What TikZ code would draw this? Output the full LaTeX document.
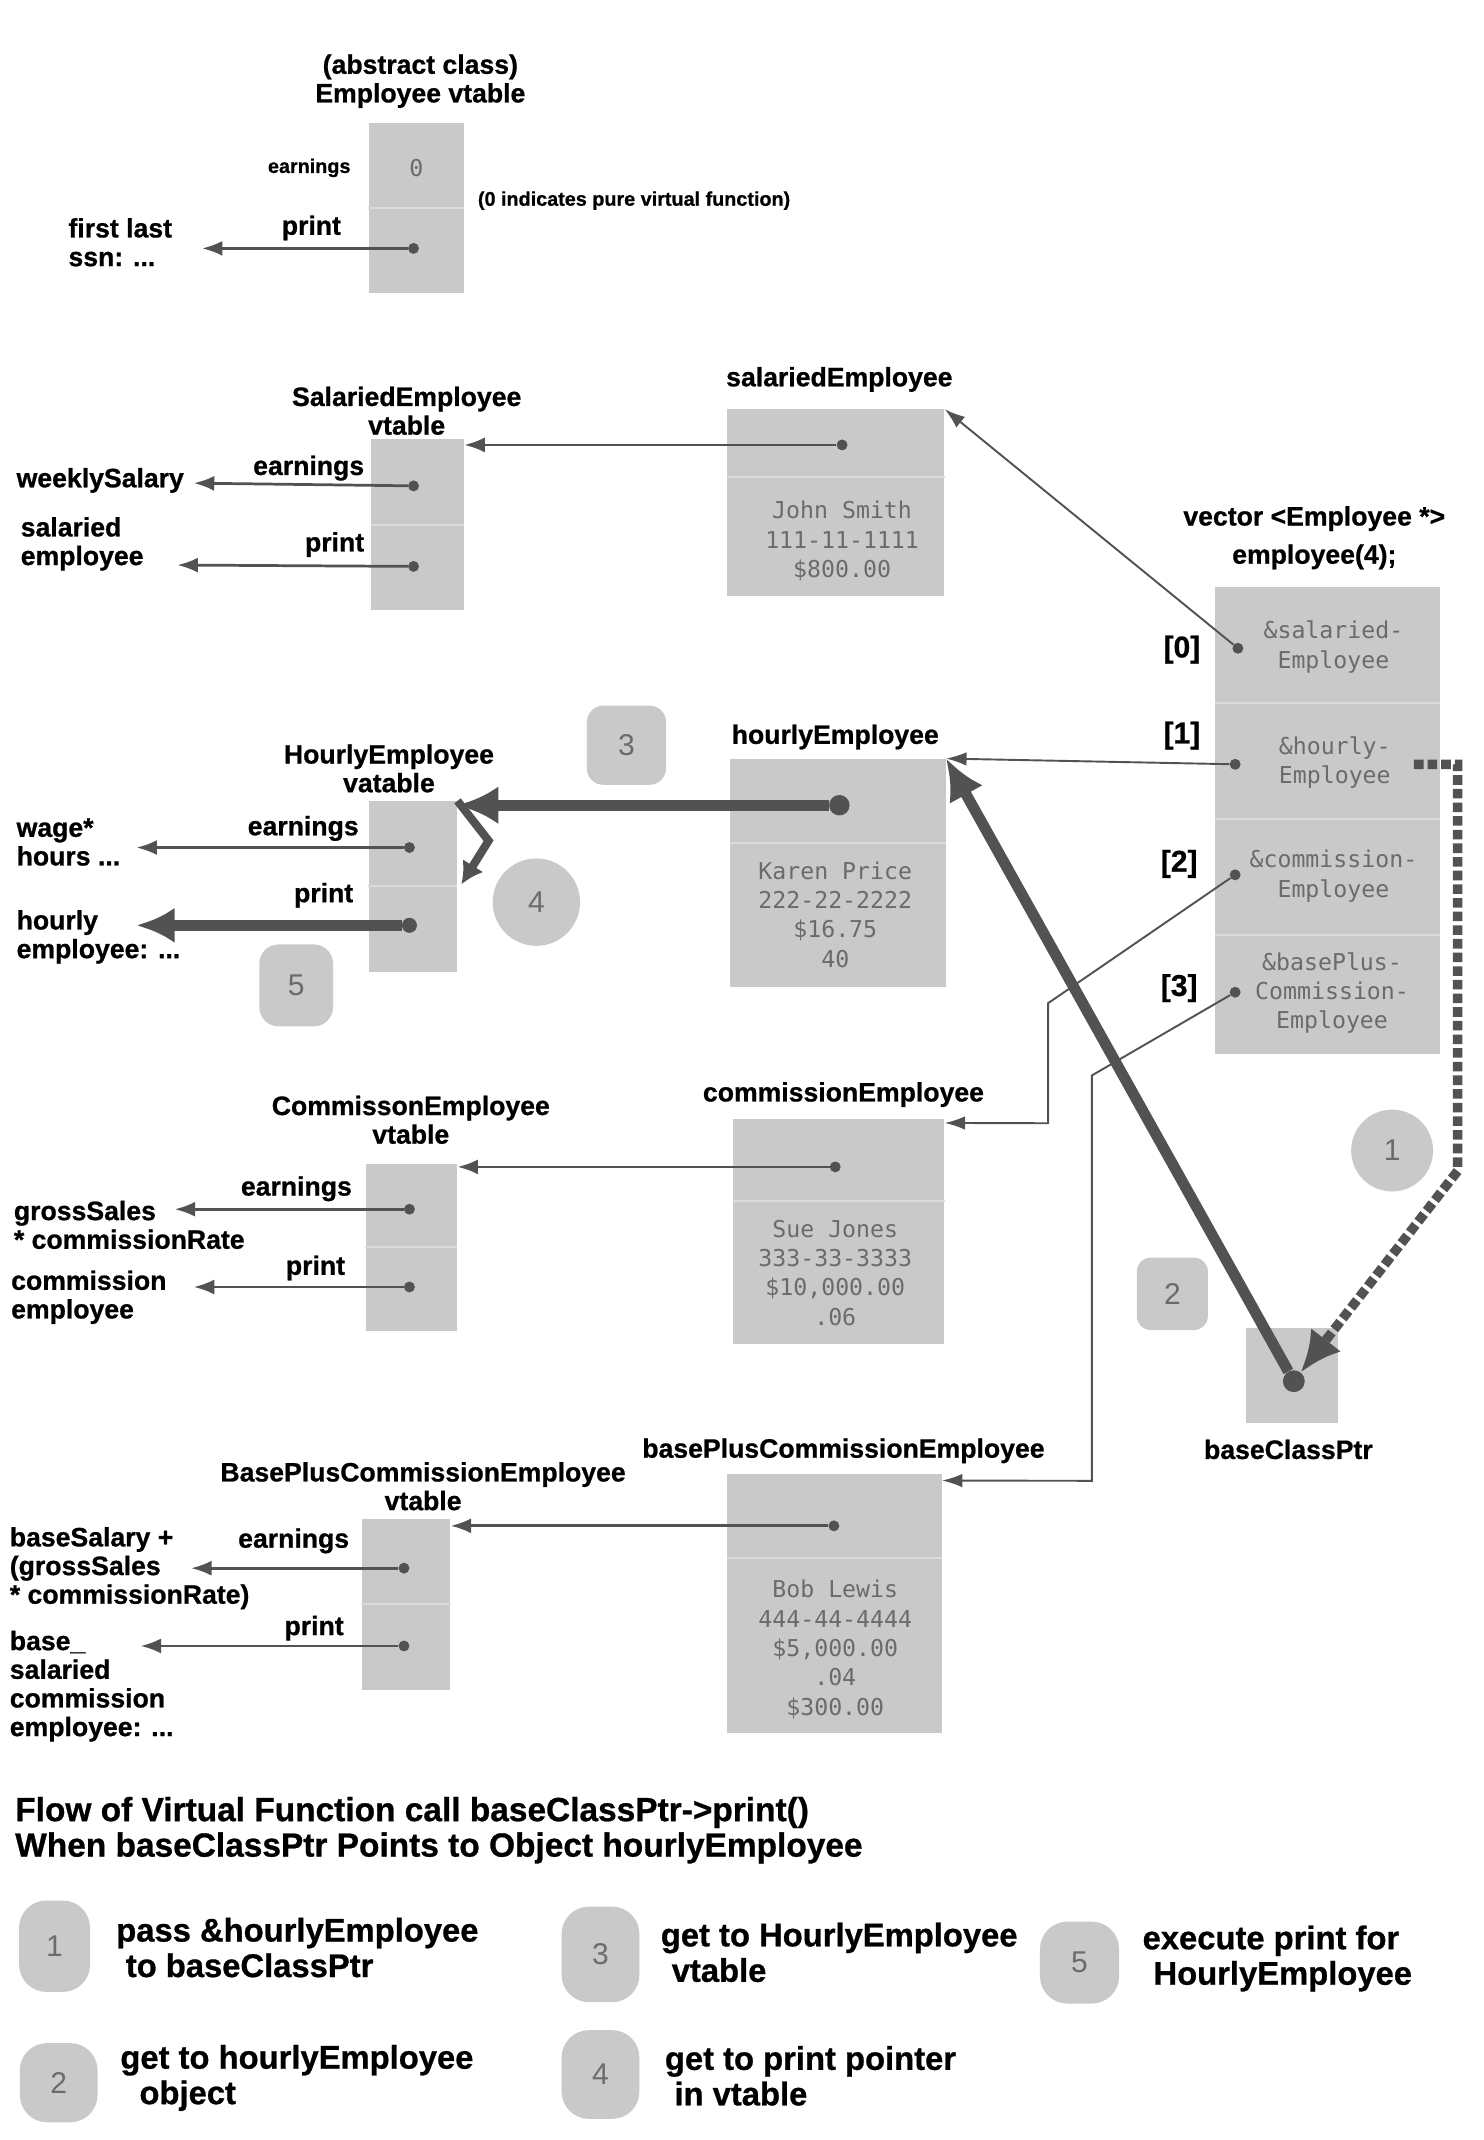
\documentclass[tikz,border=0pt]{standalone}
\usepackage{fontspec}
\setmainfont{Liberation Sans}[BoldFeatures={FakeBold=0.8}]
\newfontfamily\monof{DejaVu Sans Mono}
\usetikzlibrary{arrows.meta,calc}
\definecolor{boxgray}{gray}{0.79}
\definecolor{linegray}{gray}{0.32}
\definecolor{monogray}{gray}{0.42}
\definecolor{sepgray}{gray}{0.86}
\tikzset{
 lbl/.style={font=\bfseries\fontsize{19.5}{21}\selectfont, inner sep=0pt, align=center},
 lbll/.style={lbl, align=left, anchor=west},
 lblr/.style={lbl, anchor=east},
 small/.style={font=\bfseries\fontsize{14.5}{16}\selectfont, inner sep=0pt},
 memb/.style={fill=boxgray, draw=none, inner sep=0pt},
 sepline/.style={draw=sepgray, line width=1.5pt},
 mono/.style={font=\monof\fontsize{17}{21.5}\selectfont, text=monogray, inner sep=0pt, align=center},
 pdot/.style={circle, fill=linegray, inner sep=0pt, minimum size=8pt},
 bigdot/.style={circle, fill=linegray, inner sep=0pt, minimum size=15pt},
 thinarr/.style={draw=linegray, line width=2pt, -{Latex[length=15pt,width=11pt]}},
 hairarr/.style={draw=linegray, line width=1.4pt, -{Latex[length=15pt,width=10pt]}},
 thickarr/.style={draw=linegray, line width=8pt, -{Latex[length=30pt,width=28pt]}},
 dasharr/.style={draw=linegray, line width=7pt, dash pattern=on 7pt off 3pt, -{Latex[length=30pt,width=28pt]}},
 badge/.style={fill=boxgray, inner sep=0pt, font=\fontsize{22}{22}\selectfont, text=monogray},
 legend/.style={font=\bfseries\fontsize{24}{26}\selectfont, inner sep=0pt, align=left, anchor=west},
 idx/.style={font=\bfseries\fontsize{22}{24}\selectfont, inner sep=0pt},
}
\begin{document}
\begin{tikzpicture}[x=1pt,y=-1pt]
\useasboundingbox[fill=white] (0,0) rectangle (1087,1568);

%% ---------------- Employee (abstract) ----------------
\node[lbl] (et) at (308,59.5) {(abstract class)\\Employee vtable};
\node[memb, minimum width=70pt, minimum height=125pt] (evt) at (305,152.5) {};
\draw[sepline] (evt.west) -- (evt.east);
\node[mono] (ezero) at (305,123) {0};
\node[pdot] (ed2) at (303,182) {};
\node[small, anchor=east] (eearn) at (257,123) {earnings};
\node[lblr] (eprint) at (250,167) {print};
\node[small, anchor=west] (enote) at (350,147) {(0 indicates pure virtual function)};
\node[lbll] (eout) at (50,177.5) {first last\\ssn: ...};
\coordinate (eo2) at (148,182);
\draw[thinarr] (ed2) -- (eo2);

%% ---------------- Salaried ----------------
\node[lbl] (st) at (298,301) {SalariedEmployee\\vtable};
\node[memb, minimum width=68pt, minimum height=125pt] (svt) at (306,384.5) {};
\draw[sepline] (svt.west) -- (svt.east);
\node[pdot] (sd1) at (303,356) {};
\node[pdot] (sd2) at (303,415) {};
\node[lblr] (searn) at (267,343) {earnings};
\node[lblr] (sprint) at (267,399) {print};
\node[lbll] (so1) at (12,352) {weeklySalary};
\node[lbll] (so2) at (15,398.5) {salaried\\employee};
\coordinate (sa1) at (142,354);
\coordinate (sa2) at (130,414);
\draw[thinarr] (sd1) -- (sa1);
\draw[thinarr] (sd2) -- (sa2);
\node[lbl] (sol) at (615,278) {salariedEmployee};
\node[memb, minimum width=159pt, minimum height=137pt] (so) at (612.5,368.5) {};
\draw[sepline] ($(so.north west)+(0,50)$) -- ($(so.north east)+(0,50)$);
\node[pdot] (sod) at (617,326) {};
\node[mono] (sotext) at (617,396.5) {John Smith\\111-11-1111\\\$800.00};
\draw[thinarr] (sod) -- (sod -| svt.east);

%% ---------------- vector ----------------
\node[font=\bfseries\fontsize{19.5}{28}\selectfont, inner sep=0pt, align=center] (vt) at (963,394) {vector <Employee *>\\employee(4);};
\node[memb, minimum width=165pt, minimum height=342pt] (vec) at (972.5,601) {};
\draw[sepline] (890,515) -- (1055,515);
\draw[sepline] (890,600) -- (1055,600);
\draw[sepline] (890,685) -- (1055,685);
\node[pdot] (vd0) at (907,475) {};
\node[pdot] (vd1) at (905,560) {};
\node[pdot] (vd2) at (905,641) {};
\node[pdot] (vd3) at (905,727) {};
\node[idx] (i0) at (866,476) {[0]};
\node[idx] (i1) at (866,539) {[1]};
\node[idx] (i2) at (864,633) {[2]};
\node[idx] (i3) at (864,724) {[3]};
\node[mono] (vt0) at (977,474) {\&salaried-\\Employee};
\node[mono] (vt1) at (978,558.5) {\&hourly-\\Employee};
\node[mono] (vt2) at (977,642) {\&commission-\\Employee};
\node[mono] (vt3) at (976,727.5) {\&basePlus-\\Commission-\\Employee};

%% ---------------- Hourly ----------------
\node[lbl] (ht) at (285,563) {HourlyEmployee\\vatable};
\node[memb, minimum width=65pt, minimum height=125pt] (hvt) at (302.5,649.5) {};
\draw[sepline] (hvt.west) -- (hvt.east);
\node[pdot] (hd1) at (300,621) {};
\node[bigdot, minimum size=11pt] (hd2) at (300,678) {};
\node[lblr] (hearn) at (263,607) {earnings};
\node[lblr] (hprint) at (259,656) {print};
\node[lbll] (ho1) at (12,617) {wage*\\hours ...};
\node[lbll] (ho2) at (12,686.5) {hourly\\employee: ...};
\coordinate (ha1) at (100,621);
\coordinate (ha2) at (100,678);
\draw[thinarr] (hd1) -- (ha1);
\draw[thickarr, -{Latex[length=28pt,width=26pt]}] (hd2) -- (ha2);
\node[lbl] (hol) at (612,540) {hourlyEmployee};
\node[memb, minimum width=158pt, minimum height=167pt] (ho) at (614,639.5) {};
\draw[sepline] ($(ho.north west)+(0,62)$) -- ($(ho.north east)+(0,62)$);
\node[bigdot] (hod) at (615,590) {};
\node[mono] (hotext) at (612,670) {Karen Price\\222-22-2222\\\$16.75\\40};
\draw[thickarr] (hod) -- (hod -| hvt.east);
\coordinate (z1) at (358,616);
\coordinate (z2) at (338,648);
\draw[draw=linegray, line width=6pt, line join=miter, -{Latex[length=16pt,width=18pt]}] (hvt.north east) -- (z1) -- (z2);

%% ---------------- Commission ----------------
\node[lbl] (ct) at (301,820.5) {CommissonEmployee\\vtable};
\node[memb, minimum width=67pt, minimum height=122pt] (cvt) at (301.5,914) {};
\draw[sepline] (cvt.west) -- (cvt.east);
\node[pdot] (cd1) at (300,886) {};
\node[pdot] (cd2) at (300,943) {};
\node[lblr] (cearn) at (258,871) {earnings};
\node[lblr] (cprint) at (253,929) {print};
\node[lbll] (co1) at (10,897.5) {grossSales\\* commissionRate};
\node[lbll] (co2) at (8,950.5) {commission\\employee};
\coordinate (ca1) at (128,886);
\coordinate (ca2) at (142,943);
\draw[thinarr] (cd1) -- (ca1);
\draw[thinarr] (cd2) -- (ca2);
\node[lbl] (col) at (618,802) {commissionEmployee};
\node[memb, minimum width=155pt, minimum height=165pt] (co) at (614.5,902.5) {};
\draw[sepline] ($(co.north west)+(0,60)$) -- ($(co.north east)+(0,60)$);
\node[pdot] (cod) at (612,855) {};
\node[mono] (cotext) at (612,932.5) {Sue Jones\\333-33-3333\\\$10,000.00\\.06};
\draw[thinarr] (cod) -- (cod -| cvt.east);

%% ---------------- BasePlus ----------------
\node[lbl] (bt) at (310,1089) {BasePlusCommissionEmployee\\vtable};
\node[memb, minimum width=65pt, minimum height=125pt] (bvt) at (297.5,1175.5) {};
\draw[sepline] (bvt.west) -- (bvt.east);
\node[pdot] (bd1) at (296,1149) {};
\node[pdot] (bd2) at (296,1206) {};
\node[lblr] (bearn) at (256,1129) {earnings};
\node[lblr] (bprint) at (252,1193) {print};
\node[lbll] (bo1) at (7,1149) {baseSalary +\\(grossSales\\* commissionRate)};
\node[lbll] (bo2) at (7,1235.5) {base\_\\salaried\\commission\\employee: ...};
\coordinate (ba1) at (140,1149);
\coordinate (ba2) at (103,1206);
\draw[thinarr] (bd1) -- (ba1);
\draw[thinarr] (bd2) -- (ba2);
\node[lbl] (bol) at (618,1063) {basePlusCommissionEmployee};
\node[memb, minimum width=157pt, minimum height=190pt] (bo) at (611.5,1175) {};
\draw[sepline] ($(bo.north west)+(0,62)$) -- ($(bo.north east)+(0,62)$);
\node[pdot] (bod) at (611,1118) {};
\node[mono] (botext) at (612,1208.5) {Bob Lewis\\444-44-4444\\\$5,000.00\\.04\\\$300.00};
\draw[thinarr] (bod) -- (bod -| bvt.east);

%% ---------------- baseClassPtr ----------------
\node[memb, minimum width=67pt, minimum height=70pt] (bcpbox) at (946.5,1008) {};
\node[bigdot, minimum size=16pt] (bcp) at (948,1012) {};
\node[font=\bfseries\fontsize{19.5}{21}\selectfont, inner sep=0pt] (bcpl) at (944,1062) {baseClassPtr};

%% ---------------- vector connectors ----------------
\draw[hairarr] (vd0) -- (so.north east);
\draw[hairarr] (vd1) -- (ho.north east);
\draw[hairarr] (vd2) -- (768,735) -- (768,823) -- ($(co.north east)+(0,3)$);
\draw[hairarr] (vd3) -- (800,788) -- (800,1085) -- ($(bo.north east)+(0,5)$);

%% ---------------- flow arrows ----------------
\draw[thickarr] (bcp) -- (ho.north east);
\coordinate (s1a) at (1036,560);
\draw[dasharr] (s1a) -- (1068,560) -- (1068,858) -- (bcp);

%% ---------------- step badges in diagram ----------------
\node[badge, circle, minimum size=60pt] (b1) at (1020,843) {1};
\node[badge, rounded corners=10pt, minimum width=52pt, minimum height=53pt] (b2) at (859,948) {2};
\node[badge, rounded corners=12pt, minimum width=58pt, minimum height=58pt] (b3) at (459,546) {3};
\node[badge, circle, minimum size=64pt] (b4) at (393,661) {4};
\node[badge, rounded corners=14pt, minimum width=54pt, minimum height=60pt] (b5) at (217,722) {5};

%% ---------------- legend ----------------
\node[legend, font=\bfseries\fontsize{24.5}{26}\selectfont] (lt) at (11,1341) {Flow of Virtual Function call baseClassPtr->print()\\When baseClassPtr Points to Object hourlyEmployee};
\node[badge, rounded corners=20pt, minimum width=52pt, minimum height=67pt] (l1) at (40,1426) {1};
\node[badge, rounded corners=20pt, minimum width=57pt, minimum height=58pt] (l2) at (43,1526) {2};
\node[badge, rounded corners=20pt, minimum width=57pt, minimum height=70pt] (l3) at (440,1432) {3};
\node[badge, rounded corners=20pt, minimum width=57pt, minimum height=65pt] (l4) at (440,1520) {4};
\node[badge, rounded corners=20pt, minimum width=58pt, minimum height=60pt] (l5) at (791,1438) {5};
\node[legend] (lx1) at (85,1427) {pass \&hourlyEmployee\\\hspace*{7pt}to baseClassPtr};
\node[legend] (lx2) at (88,1522.5) {get to hourlyEmployee\\\hspace*{14pt}object};
\node[legend] (lx3) at (484,1430.5) {get to HourlyEmployee\\\hspace*{8pt}vtable};
\node[legend] (lx4) at (487,1521) {get to print pointer\\\hspace*{7pt}in vtable};
\node[legend] (lx5) at (837,1435) {execute print for\\\hspace*{8pt}HourlyEmployee};
\end{tikzpicture}
\end{document}
